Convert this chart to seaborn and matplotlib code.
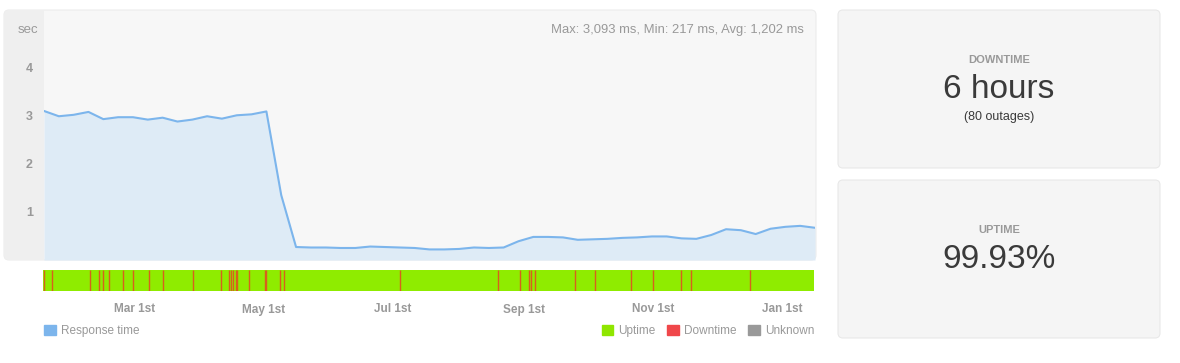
import matplotlib
matplotlib.use('Agg')
import pandas as pd
import matplotlib.pyplot as plt
from matplotlib.patches import FancyBboxPatch, Rectangle, Patch
import seaborn as sns

# weekly response time samples (seconds)
start_date = '2019-01-17'
response_sec = [3.10, 2.99, 3.02, 3.08, 2.93, 2.97, 2.97, 2.92, 2.96, 2.88,
                2.92, 2.99, 2.94, 3.01, 3.03, 3.09, 1.35, 0.27, 0.26, 0.26,
                0.25, 0.25, 0.28, 0.27, 0.26, 0.25, 0.22, 0.22, 0.23, 0.26,
                0.25, 0.26, 0.39, 0.48, 0.48, 0.47, 0.42, 0.43, 0.44, 0.46,
                0.47, 0.49, 0.49, 0.45, 0.44, 0.52, 0.64, 0.62, 0.54, 0.65,
                0.69, 0.71, 0.67]

# outages, days after start_date
outage_day = [0.4, 4.4, 22.0, 26.3, 28.3, 31.1, 37.9, 42.3, 50.1, 56.5, 70.6,
              84.1, 87.6, 88.8, 89.8, 90.9, 91.5, 97.2, 104.6, 105.5, 111.7,
              113.7, 168.7, 215.0, 225.3, 229.6, 230.2, 232.2, 251.1, 260.5,
              277.5, 287.9, 301.1, 305.8, 333.8]

tick_dates = ['2019-03-01', '2019-05-01', '2019-07-01', '2019-09-01', '2019-11-01', '2020-01-01']
tick_labels = ['Mar 1st', 'May 1st', 'Jul 1st', 'Sep 1st', 'Nov 1st', 'Jan 1st']
y_ticks = [1, 2, 3, 4]
stats_text = 'Max: 3,093 ms, Min: 217 ms, Avg: 1,202 ms'

downtime_label, downtime_value, downtime_note = 'DOWNTIME', '6 hours', '(80 outages)'
uptime_label, uptime_value = 'UPTIME', '99.93%'

df = pd.DataFrame({'date': pd.date_range(start_date, periods=len(response_sec), freq='7D'),
                   'sec': response_sec})
outages = pd.to_datetime(start_date) + pd.to_timedelta(outage_day, unit='D')

sns.set_style('white')
plt.rcParams['font.family'] = ['Liberation Sans', 'DejaVu Sans']

W, H = 1180, 363
fig = plt.figure(figsize=(W / 100, H / 100), dpi=100)


def px_box(x0, y0, x1, y1):
    return [x0 / W, 1 - y1 / H, (x1 - x0) / W, (y1 - y0) / H]


def add_panel(x0, y0, x1, y1, color, edge='none', r=0.05):
    p = FancyBboxPatch((x0 / 100, (H - y1) / 100), (x1 - x0) / 100, (y1 - y0) / 100,
                       boxstyle=f'round,pad=0,rounding_size={r}', fc=color, ec=edge, lw=0.8,
                       transform=fig.dpi_scale_trans, zorder=-2)
    fig.add_artist(p)


# chart background + gutter
add_panel(4, 10, 816, 260, '#f7f7f7', '#ececec')
add_panel(4, 10, 44, 260, '#efefef')
fig.add_artist(Rectangle((0.25, (H - 260) / 100), 0.19, 2.5, fc='#efefef', ec='none',
                         transform=fig.dpi_scale_trans, zorder=-1))

ax = fig.add_axes(px_box(44, 10, 815, 260))
ax.patch.set_visible(False)
ax.fill_between(df['date'], df['sec'], color='#deebf6', lw=0)
sns.lineplot(data=df, x='date', y='sec', ax=ax, color='#7cb5ec', lw=1.5)
ax.set_xlim(df['date'].iloc[0], df['date'].iloc[-1])
ax.set_ylim(0, 5.2)
ax.set_yticks(y_ticks)
ax.set_yticklabels([str(t) for t in y_ticks], fontweight='bold', color='#999999', fontsize=9)
ax.set_xticks([])
ax.tick_params(length=0, pad=8)
ax.set_xlabel('')
ax.set_ylabel('')
for s in ax.spines.values():
    s.set_visible(False)

fig.text(38 / W, 1 - 30 / H, 'sec', ha='right', va='center', color='#999999', fontsize=9.5)
fig.text(804 / W, 1 - 30 / H, stats_text, ha='right', va='center', color='#999999', fontsize=9.4)

# status bar
ax2 = fig.add_axes(px_box(43, 270, 814, 291))
ax2.axvspan(df['date'].iloc[0], df['date'].iloc[-1], color='#8fec00', lw=0)
ax2.vlines(outages, 0, 1, color='#d8601c', lw=1)
ax2.set_xlim(df['date'].iloc[0], df['date'].iloc[-1])
ax2.set_ylim(0, 1)
ax2.set_yticks([])
ax2.set_xticks(pd.to_datetime(tick_dates))
ax2.set_xticklabels(tick_labels, fontweight='bold', color='#999999', fontsize=8.5)
ax2.tick_params(length=0, pad=9)
for s in ax2.spines.values():
    s.set_visible(False)

# legends
fig.legend(handles=[Patch(color='#7cb5ec', label='Response time')], loc='center left',
           bbox_to_anchor=(44 / W, 1 - 331 / H), frameon=False, handlelength=1.0,
           handleheight=1.0, handletextpad=0.4, fontsize=8.5, labelcolor='#999999',
           borderpad=0, borderaxespad=0)
fig.legend(handles=[Patch(color='#8fe600', label='Uptime'),
                    Patch(color='#f0474a', label='Downtime'),
                    Patch(color='#999999', label='Unknown')],
           loc='center right', ncol=3, bbox_to_anchor=(814 / W, 1 - 331 / H), frameon=False,
           handlelength=1.0, handleheight=1.0, handletextpad=0.4, columnspacing=1.0,
           fontsize=8.5, labelcolor='#999999', borderpad=0, borderaxespad=0)

# summary boxes
add_panel(838, 10, 1160, 168, '#f5f5f5', '#e8e8e8')
add_panel(838, 180, 1160, 338, '#f5f5f5', '#e8e8e8')
cx = 999 / W
fig.text(cx, 1 - 60 / H, downtime_label, ha='center', va='center', fontsize=8,
         fontweight='bold', color='#999999')
fig.text(cx, 1 - 90 / H, downtime_value, ha='center', va='center', fontsize=24, color='#3a3a3a')
fig.text(cx, 1 - 117 / H, downtime_note, ha='center', va='center', fontsize=9, color='#3a3a3a')
fig.text(cx, 1 - 230 / H, uptime_label, ha='center', va='center', fontsize=8,
         fontweight='bold', color='#999999')
fig.text(cx, 1 - 260 / H, uptime_value, ha='center', va='center', fontsize=24, color='#3a3a3a')

plt.savefig('out.png', dpi=100)
